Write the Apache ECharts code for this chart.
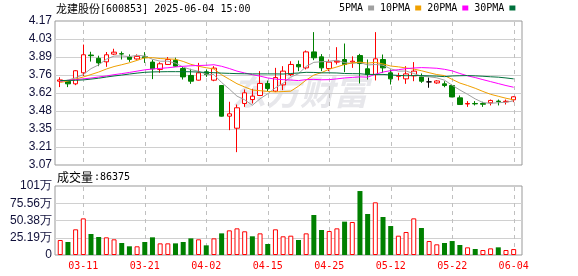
<!DOCTYPE html>
<html><head><meta charset="utf-8">
<script src="https://cdn.jsdelivr.net/npm/echarts@6/dist/echarts.min.js"></script>
<style>html,body{margin:0;padding:0;background:#fff}#c{width:578px;height:276px}</style>
</head><body><div id="c"></div>
<script>
const stockName = '龙建股份';
const stockInfo = '[600853] 2025-06-04 15:00';
const volumeTitle = '成交量';
const dates = ['03-06','03-07','03-10','03-11','03-12','03-13','03-14','03-17','03-18','03-19','03-20','03-21','03-24','03-25','03-26','03-27','03-28','03-31','04-01','04-02','04-03','04-07','04-08','04-09','04-10','04-11','04-14','04-15','04-16','04-17','04-18','04-21','04-22','04-23','04-24','04-25','04-28','04-29','04-30','05-06','05-07','05-08','05-09','05-12','05-13','05-14','05-15','05-16','05-19','05-20','05-21','05-22','05-23','05-26','05-27','05-28','05-29','05-30','06-03','06-04'];
const labelDates = ['03-11','03-21','04-02','04-15','04-25','05-12','05-22','06-04'];
const opens  = [3.71,3.71,3.69,3.774,3.91,3.885,3.858,3.917,3.92,3.895,3.88,3.897,3.856,3.80,3.838,3.87,3.807,3.754,3.718,3.782,3.718,3.677,3.443,3.351,3.54,3.57,3.601,3.693,3.634,3.682,3.761,3.838,3.812,3.934,3.896,3.807,3.856,3.876,3.856,3.906,3.805,3.761,3.876,3.774,3.748,3.728,3.751,3.743,3.705,3.697,3.69,3.677,3.583,3.536,3.54,3.54,3.545,3.558,3.553,3.568];
const closes = [3.72,3.69,3.79,3.912,3.905,3.85,3.912,3.932,3.918,3.877,3.90,3.89,3.805,3.843,3.876,3.825,3.743,3.71,3.774,3.761,3.81,3.443,3.461,3.507,3.621,3.596,3.693,3.654,3.738,3.787,3.838,3.82,3.934,3.889,3.812,3.856,3.863,3.838,3.863,3.845,3.761,3.881,3.812,3.728,3.751,3.766,3.787,3.71,3.705,3.712,3.677,3.59,3.532,3.54,3.537,3.534,3.563,3.555,3.557,3.591];
const lows   = [3.665,3.665,3.68,3.75,3.86,3.825,3.82,3.91,3.876,3.858,3.875,3.85,3.726,3.774,3.837,3.82,3.723,3.69,3.715,3.743,3.71,3.44,3.336,3.168,3.514,3.54,3.60,3.634,3.627,3.642,3.75,3.787,3.80,3.871,3.787,3.787,3.838,3.779,3.812,3.693,3.723,3.716,3.774,3.685,3.716,3.69,3.71,3.697,3.66,3.69,3.664,3.588,3.53,3.514,3.525,3.514,3.525,3.525,3.532,3.55];
const highs  = [3.74,3.72,3.795,3.99,3.935,3.905,3.933,3.958,3.937,3.915,3.915,3.932,3.875,3.855,3.895,3.89,3.82,3.805,3.85,3.80,3.825,3.68,3.553,3.532,3.647,3.652,3.787,3.715,3.812,3.825,3.863,3.868,3.945,4.085,3.917,3.876,3.97,3.998,3.90,3.919,3.876,4.085,3.914,3.80,3.774,3.825,3.856,3.769,3.738,3.718,3.71,3.685,3.601,3.558,3.558,3.553,3.57,3.57,3.57,3.596];
const volumes = [219000,190000,375000,535000,307000,263000,258000,229000,175000,127000,127000,190000,258000,170000,170000,170000,190000,243000,229000,141000,243000,316000,360000,389000,346000,273000,316000,161000,375000,273000,282000,219000,316000,584000,365000,350000,389000,487000,482000,934000,599000,769000,555000,423000,282000,336000,535000,394000,204000,156000,175000,204000,146000,112000,88000,73000,97000,112000,73000,86375];
const volumeUp = [1,0,1,1,0,0,1,1,0,0,1,0,0,1,1,0,0,0,1,0,1,0,1,1,1,0,1,0,1,1,1,0,1,0,0,1,1,0,1,0,0,1,0,0,1,1,1,0,1,1,0,0,0,1,0,1,1,0,1,1];
const ma5  = [3.71,3.718,3.736,3.761,3.806,3.835,3.878,3.902,3.903,3.898,3.908,3.903,3.878,3.863,3.863,3.848,3.818,3.799,3.786,3.763,3.760,3.700,3.650,3.596,3.568,3.526,3.576,3.614,3.660,3.694,3.742,3.767,3.823,3.854,3.859,3.862,3.871,3.852,3.846,3.853,3.834,3.838,3.832,3.805,3.787,3.788,3.769,3.748,3.744,3.736,3.718,3.679,3.643,3.610,3.575,3.547,3.541,3.546,3.549,3.560];
const ma10 = [3.70,3.712,3.727,3.742,3.761,3.78,3.803,3.822,3.836,3.851,3.869,3.889,3.890,3.883,3.880,3.878,3.861,3.839,3.824,3.813,3.804,3.759,3.725,3.691,3.666,3.643,3.638,3.632,3.628,3.631,3.634,3.672,3.719,3.757,3.776,3.802,3.819,3.838,3.850,3.856,3.848,3.854,3.842,3.826,3.820,3.811,3.803,3.790,3.775,3.761,3.753,3.724,3.696,3.677,3.656,3.632,3.610,3.595,3.580,3.568];
const ma20 = [3.712,3.716,3.722,3.728,3.734,3.742,3.75,3.76,3.768,3.777,3.787,3.797,3.803,3.808,3.813,3.819,3.824,3.828,3.830,3.832,3.836,3.824,3.807,3.787,3.773,3.760,3.749,3.735,3.726,3.722,3.719,3.715,3.722,3.724,3.721,3.722,3.728,3.735,3.739,3.743,3.741,3.763,3.780,3.791,3.798,3.806,3.811,3.814,3.812,3.809,3.801,3.789,3.769,3.751,3.738,3.722,3.707,3.692,3.677,3.664];
const ma30 = [3.715,3.716,3.717,3.72,3.726,3.733,3.742,3.75,3.757,3.765,3.772,3.778,3.781,3.782,3.783,3.783,3.783,3.782,3.78,3.777,3.775,3.772,3.77,3.768,3.767,3.766,3.766,3.766,3.766,3.765,3.769,3.773,3.778,3.777,3.774,3.774,3.773,3.769,3.768,3.767,3.762,3.762,3.762,3.758,3.754,3.752,3.753,3.753,3.751,3.749,3.745,3.750,3.752,3.753,3.751,3.748,3.744,3.741,3.735,3.728];
const priceTickLabels = ['3.07','3.21','3.35','3.48','3.62','3.76','3.89','4.03','4.17'];
const volumeTickLabels = ['0','25.19万','50.38万','75.56万','101万'];
const priceMin = 3.07, priceMax = 4.17;
const volumeMax = 1007500;

const RED = '#ff0000', GREEN = '#008000';
const maColors = ['#a0a0a0', '#f0a000', '#ff00ff', '#00703c'];
const maNames = ['5PMA', '10PMA', '20PMA', '30PMA'];
const maData = [ma5, ma10, ma20, ma30];
const labelSet = new Set(labelDates);

const chart = echarts.init(document.getElementById('c'), null, {renderer: 'canvas', width: 578, height: 276});
const candleData = dates.map((d, i) => [opens[i], closes[i], lows[i], highs[i]]);
const volData = volumes.map((v, i) => ({
  value: v,
  itemStyle: volumeUp[i]
    ? {color: '#ffffff', borderColor: RED, borderWidth: 1}
    : {color: GREEN, borderColor: GREEN, borderWidth: 0}
}));
const axisFont = {color: '#10103a', fontSize: 12, fontFamily: 'Liberation Sans, Arial, sans-serif'};

const baseGraphics = [
  {id: 'wm', type: 'text', x: 232, y: 92, z: -20, silent: true,
    style: {text: '东方财富', fontFamily: 'Noto Sans CJK SC', fontWeight: 'bold', fontStyle: 'italic', fontSize: 34, fill: '#e7e7eb', verticalAlign: 'middle', align: 'left'}},
  {id: 't1', type: 'text', x: 56, y: 9, style: {text: stockName, fontFamily: 'Noto Sans CJK SC', fontSize: 11, fill: '#000', verticalAlign: 'middle', align: 'left'}},
  {id: 't2', type: 'text', x: 100, y: 9, style: {text: stockInfo, fontFamily: 'DejaVu Sans Mono, monospace', fontSize: 10, fill: '#000', verticalAlign: 'middle', align: 'left'}},
  {id: 't3', type: 'text', x: 57, y: 177, style: {text: volumeTitle, fontFamily: 'Noto Sans CJK SC', fontSize: 12, fill: '#000', verticalAlign: 'middle', align: 'left'}},
  {id: 't4', type: 'text', x: 94, y: 177, style: {text: ':' + volumes[volumes.length - 1], fontFamily: 'DejaVu Sans Mono, monospace', fontSize: 10, fill: '#000', verticalAlign: 'middle', align: 'left'}}
];

const option = {
  animation: false,
  backgroundColor: '#ffffff',
  legend: {
    data: maNames, left: 339, top: 3, align: 'right', icon: 'rect',
    itemWidth: 6, itemHeight: 5, itemGap: 6, padding: 0, selectedMode: false,
    textStyle: {fontFamily: 'DejaVu Sans Mono, monospace', fontSize: 10, color: '#000', padding: 0}
  },
  grid: [
    {left: 55, top: 21, width: 467, height: 144, show: true, borderColor: '#999', borderWidth: 1, backgroundColor: 'rgba(0,0,0,0)', outerBoundsMode: 'none', containLabel: false},
    {left: 56.4, top: 21, width: 461.1, height: 144, show: false, outerBoundsMode: 'none', containLabel: false},
    {left: 55, top: 186, width: 467, height: 69, show: true, borderColor: '#999', borderWidth: 1, backgroundColor: 'rgba(0,0,0,0)', outerBoundsMode: 'none', containLabel: false},
    {left: 56.4, top: 186, width: 461.1, height: 69, show: false, outerBoundsMode: 'none', containLabel: false}
  ],
  xAxis: [
    {gridIndex: 0, type: 'value', min: 0, max: 1, show: false},
    {gridIndex: 1, type: 'category', data: dates, boundaryGap: true, axisLine: {show: false}, axisTick: {show: false}, axisLabel: {show: false}, splitLine: {show: false}},
    {gridIndex: 2, type: 'value', min: 0, max: 1, show: false},
    {gridIndex: 3, type: 'category', data: dates, boundaryGap: true, axisLine: {show: false}, axisTick: {show: false}, splitLine: {show: false},
      axisLabel: {show: true, interval: (i, v) => labelSet.has(v), color: RED, fontFamily: 'DejaVu Sans Mono, monospace', fontSize: 10, margin: 6, hideOverlap: false}}
  ],
  yAxis: [
    {gridIndex: 0, type: 'value', min: 0, max: priceTickLabels.length - 1, interval: 1,
      axisLine: {show: false}, axisTick: {show: false},
      splitLine: {show: true, showMinLine: false, showMaxLine: false, lineStyle: {color: '#d0d0d0', width: 1}},
      axisLabel: Object.assign({margin: 3, formatter: v => priceTickLabels[Math.round(v)]}, axisFont)},
    {gridIndex: 1, type: 'value', min: priceMin, max: priceMax, show: false},
    {gridIndex: 2, type: 'value', min: 0, max: volumeMax, interval: volumeMax / 4,
      axisLine: {show: false}, axisTick: {show: false},
      splitLine: {show: true, showMinLine: false, showMaxLine: false, lineStyle: {color: '#d0d0d0', width: 1}},
      axisLabel: Object.assign({margin: 3, formatter: v => volumeTickLabels[Math.round(v / (volumeMax / 4))]}, axisFont)},
    {gridIndex: 3, type: 'value', min: 0, max: volumeMax, show: false}
  ],
  graphic: baseGraphics,
  series: [
    {type: 'candlestick', name: 'K', xAxisIndex: 1, yAxisIndex: 1, data: candleData, barWidth: 5, z: 2,
      itemStyle: {color: '#ffffff', color0: GREEN, borderColor: RED, borderColor0: GREEN, borderColorDoji: '#000000', borderWidth: 1},
      emphasis: {disabled: true}},
    ...maNames.map((n, k) => ({
      type: 'line', name: n, xAxisIndex: 1, yAxisIndex: 1, data: maData[k], symbol: 'none', showSymbol: false, z: 3,
      lineStyle: {width: 1, color: maColors[k]}, itemStyle: {color: maColors[k]}, emphasis: {disabled: true}
    })),
    {type: 'bar', name: 'VOL', xAxisIndex: 3, yAxisIndex: 3, data: volData, barWidth: 5, z: 2,
      emphasis: {disabled: true}}
  ]
};
chart.setOption(option);

// Dashed vertical guides at the labelled dates, positioned through the chart's own scales.
// Each dash is an explicit short line segment (4px on, 4px off).
const guides = [];
const dashStyle = {stroke: '#c0c0c0', lineWidth: 1};
function addDashes(prefix, x, y1, y2) {
  let n = 0;
  for (let y = y1; y < y2; y += 8) {
    guides.push({id: prefix + '_' + (n++), type: 'line', silent: true, z: 1,
      shape: {x1: x, y1: y, x2: x, y2: Math.min(y + 4, y2)}, style: dashStyle});
  }
}
labelDates.forEach((d, k) => {
  const idx = dates.indexOf(d);
  const pt = chart.convertToPixel({seriesIndex: 0}, [idx, priceMax]);
  const pb = chart.convertToPixel({seriesIndex: 0}, [idx, priceMin]);
  const vt = chart.convertToPixel({seriesIndex: 5}, [idx, volumeMax]);
  const vb = chart.convertToPixel({seriesIndex: 5}, [idx, 0]);
  if (!pt || !pb || !vt || !vb || isNaN(pt[0])) return;
  const x = Math.round(pt[0]) + 0.5;
  addDashes('gp' + k, x, Math.round(pt[1]) + 1, Math.round(pb[1]));
  addDashes('gv' + k, x, Math.round(vt[1]) + 1, Math.round(vb[1]));
});
chart.setOption({graphic: baseGraphics.concat(guides)});
</script>
</body></html>
